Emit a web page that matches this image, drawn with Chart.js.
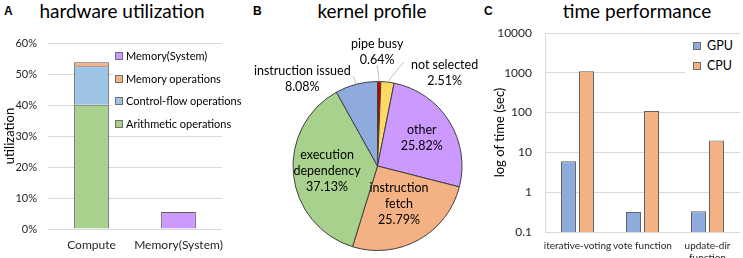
<!DOCTYPE html>
<html>
<head>
<meta charset="utf-8">
<script src="https://cdn.jsdelivr.net/npm/chart.js@4.4.1/dist/chart.umd.min.js"></script>
<style>
  html, body { margin: 0; padding: 0; background: #fff; }
  body { width: 743px; height: 258px; position: relative; overflow: hidden; font-family: Lato, sans-serif; color: #000; }
  canvas { position: absolute; top: 0; }
  .letter { position: absolute; top: 4px; font: bold 12px "Liberation Sans", Arial, sans-serif; }
  .title { position: absolute; top: 0; font-size: 19px; transform: translateX(-50%); white-space: nowrap; line-height: 22px; }
  .legend { position: absolute; background: #fff; }
  .legend div { white-space: nowrap; }
  .legend i { display: inline-block; width: 6px; height: 6px; border: 1px solid #6f6f6f; vertical-align: middle; position: relative; top: -1px; }
</style>
</head>
<body>

<div class="letter" style="left:4px">A</div>
<div class="title" style="left:122px">hardware utilization</div>
<div class="letter" style="left:253px">B</div>
<div class="title" style="left:372px">kernel profile</div>
<div class="letter" style="left:484px">C</div>
<div class="title" style="left:637px">time performance</div>

<canvas id="chartA" width="240" height="258" style="left:0"></canvas>
<canvas id="chartB" width="255" height="258" style="left:250px"></canvas>
<canvas id="chartC" width="253" height="258" style="left:490px"></canvas>

<div id="legendA" class="legend" style="left:112px; top:45px; width:110px; font-size:11px;"></div>
<div id="legendC" class="legend" style="left:685px; top:36px; width:58px; font-size:12.5px;"></div>

<script>
// A: hardware utilization (%)
const hwCategories = ['Compute', 'Memory(System)'];
const arithmeticOps = [40.1, null];
const controlFlowOps = [12.4, null];
const memoryOps = [1.3, null];
const memorySystem = [null, 5.5];

// B: kernel profile (%)
const kernelLabels = [['pipe busy'], ['not selected'], ['other'], ['instruction', 'fetch'], ['execution', 'dependency'], ['instruction issued']];
const kernelValues = [0.64, 2.51, 25.82, 25.79, 37.13, 8.08];

// C: time performance (sec)
const timeCategories = ['iterative-voting', 'vote function', ['update-dir', 'function']];
const gpuTime = [6.0, 0.32, 0.33];
const cpuTime = [1100, 110, 20];
const timeTicks = [0.1, 1, 10, 100, 1000, 10000];

Chart.defaults.font.family = 'Lato';
Chart.defaults.color = '#262626';

const edge = '#5f5f5f';
const gridColor = '#d9d9d9';

// legend in html, boxes inside the plot like in the original
function htmlLegend(el, items, rowHeight, gap) {
  items.forEach(it => {
    const row = document.createElement('div');
    row.style.height = rowHeight + 'px';
    row.style.lineHeight = rowHeight + 'px';
    row.style.paddingLeft = gap[0] + 'px';
    row.innerHTML = `<i style="background:${it.color}"></i><span style="margin-left:${gap[1]}px">${it.label}</span>`;
    el.appendChild(row);
  });
}

// --- A ---
const hwSets = [
  { label: 'Arithmetic operations', data: arithmeticOps, backgroundColor: '#A9D18E' },
  { label: 'Control-flow operations', data: controlFlowOps, backgroundColor: '#9DC3E6' },
  { label: 'Memory operations', data: memoryOps, backgroundColor: '#F4B183' },
  { label: 'Memory(System)', data: memorySystem, backgroundColor: '#CC99FF' }
];

new Chart(document.getElementById('chartA'), {
  type: 'bar',
  data: {
    labels: hwCategories,
    datasets: hwSets.map(d => ({ ...d, borderColor: edge, borderWidth: 1, barPercentage: 0.5, categoryPercentage: 0.8 }))
  },
  options: {
    responsive: false,
    animation: false,
    layout: { padding: { top: 43, right: 18, left: 0, bottom: 0 } },
    plugins: { legend: { display: false }, tooltip: { enabled: false } },
    scales: {
      x: {
        stacked: true,
        grid: { display: false },
        border: { display: false },
        ticks: { font: { size: 12 }, padding: 1, maxRotation: 0, autoSkip: false },
        afterFit: s => { s.height = 29; }
      },
      y: {
        stacked: true,
        min: 0,
        max: 60,
        grid: { color: gridColor, drawTicks: false },
        border: { display: false },
        ticks: { stepSize: 10, font: { size: 11 }, padding: 11, callback: v => v + '%' },
        title: { display: true, text: 'utilization', font: { size: 13 }, color: '#000', padding: { top: 2, bottom: 0 } },
        afterFit: s => { s.width = 48; }
      }
    }
  }
});

htmlLegend(document.getElementById('legendA'),
  hwSets.slice().reverse().map(d => ({ label: d.label, color: d.backgroundColor })), 22.5, [3, 3]);

// --- B ---
// where each label goes: inside ones at a fraction of the radius,
// outside ones offset from the slice edge with a leader line
const pieLabelPlace = [
  { line: [-2, -16.5], text: [-2, -29.5] },
  { line: [16, -20], text: [57, -9.5] },
  { inside: 0.62 },
  { inside: 0.52 },
  { inside: 0.6 },
  { line: [-3, -8], text: [-54, -5] }
];

const pieLabels = {
  id: 'pieLabels',
  afterDatasetsDraw(chart) {
    const ctx = chart.ctx;
    const meta = chart.getDatasetMeta(0);
    ctx.save();
    ctx.font = '12.5px Lato';
    ctx.fillStyle = '#000';
    ctx.textAlign = 'center';
    ctx.textBaseline = 'middle';
    meta.data.forEach((arc, i) => {
      const p = arc.getProps(['x', 'y', 'startAngle', 'endAngle', 'outerRadius'], true);
      const mid = (p.startAngle + p.endAngle) / 2;
      const place = pieLabelPlace[i];
      let cx, cy;
      if (place.inside) {
        cx = p.x + Math.cos(mid) * p.outerRadius * place.inside;
        cy = p.y + Math.sin(mid) * p.outerRadius * place.inside;
      } else {
        const ex = p.x + Math.cos(mid) * p.outerRadius;
        const ey = p.y + Math.sin(mid) * p.outerRadius;
        ctx.strokeStyle = '#bfbfbf';
        ctx.lineWidth = 1;
        ctx.beginPath();
        ctx.moveTo(ex, ey);
        ctx.lineTo(ex + place.line[0], ey + place.line[1]);
        ctx.stroke();
        cx = ex + place.text[0];
        cy = ey + place.text[1];
      }
      const lines = kernelLabels[i].concat([kernelValues[i].toFixed(2) + '%']);
      lines.forEach((t, k) => ctx.fillText(t, cx, cy + (k - (lines.length - 1) / 2) * 16));
    });
    ctx.restore();
  }
};

new Chart(document.getElementById('chartB'), {
  type: 'pie',
  data: {
    labels: kernelLabels.map(l => l.join(' ')),
    datasets: [{
      data: kernelValues,
      backgroundColor: ['#C00000', '#FFD966', '#CC99FF', '#F4B183', '#A9D18E', '#8FAADC'],
      borderColor: '#404040',
      borderWidth: 1
    }]
  },
  options: {
    responsive: false,
    animation: false,
    layout: { padding: { left: 42.5, right: 42.5, top: 81, bottom: 7 } },
    plugins: { legend: { display: false }, tooltip: { enabled: false } }
  },
  plugins: [pieLabels]
});

// --- C ---
const timeSets = [
  { label: 'GPU', data: gpuTime, backgroundColor: '#8FAADC' },
  { label: 'CPU', data: cpuTime, backgroundColor: '#F4B183' }
];

new Chart(document.getElementById('chartC'), {
  type: 'bar',
  data: {
    labels: timeCategories,
    datasets: timeSets.map(d => ({ ...d, borderColor: edge, borderWidth: 1, barPercentage: 0.83, categoryPercentage: 0.554 }))
  },
  options: {
    responsive: false,
    animation: false,
    layout: { padding: { top: 33, right: 3, left: 0, bottom: 0 } },
    plugins: { legend: { display: false }, tooltip: { enabled: false } },
    scales: {
      x: {
        grid: { display: false },
        border: { display: false },
        ticks: { font: { size: 10 }, padding: 0, maxRotation: 0, autoSkip: false },
        afterFit: s => { s.height = 26; }
      },
      y: {
        type: 'logarithmic',
        min: 0.1,
        max: 10000,
        afterBuildTicks: s => { s.ticks = timeTicks.map(v => ({ value: v })); },
        grid: { color: gridColor, drawTicks: false },
        border: { display: true, color: gridColor },
        ticks: { font: { size: 12 }, padding: 13, callback: v => String(v) },
        title: { display: true, text: 'log of time (sec)', font: { size: 13 }, color: '#000', padding: { top: 2, bottom: 0 } },
        afterFit: s => { s.width = 55; }
      }
    }
  }
});

htmlLegend(document.getElementById('legendC'),
  timeSets.map(d => ({ label: d.label, color: d.backgroundColor })), 20, [8, 6]);
</script>
</body>
</html>
